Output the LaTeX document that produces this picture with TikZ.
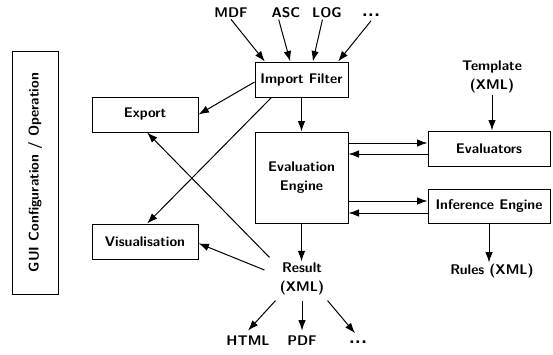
\documentclass[tikz,border=0pt]{standalone}
\usetikzlibrary{arrows.meta,calc}

\tikzset{every picture/.style={line width=1pt}}
\tikzset{
  box/.style={draw, line width=1pt, inner sep=0pt, align=center},
  lbl/.style={inner sep=1pt, align=center},
  dots/.style={inner sep=1pt, font=\sffamily\bfseries\fontsize{20}{20}\selectfont},
  arr/.style={-{Latex[length=10.5pt,width=7.5pt]}, line width=1pt}
}

\begin{document}
\begin{tikzpicture}[x=1pt,y=1pt,yscale=-1,xscale=1,
  font=\sffamily\bfseries\fontsize{14}{19}\selectfont]
\useasboundingbox (0,0) rectangle (553,354);

%Shape: Rectangle
\node[box, minimum width=46, minimum height=243] (gui) at (35,172.5) {};
\node[rotate=90] (guitext) at (gui.center) {GUI Configuration / Operation};
%Shape: Rectangle
\node[box, minimum width=93, minimum height=35] (imp) at (301.5,79.5) {Import Filter};
%Shape: Rectangle
\node[box, minimum width=106, minimum height=35] (exp) at (145,114.5) {Export};
%Shape: Rectangle
\node[box, minimum width=93, minimum height=91] (eval) at (301.5,177.5) {Evaluation\\Engine};
%Shape: Rectangle
\node[box, minimum width=122, minimum height=35] (evals) at (489,148.5) {Evaluators};
%Shape: Rectangle
\node[box, minimum width=122, minimum height=34] (inf) at (489,206) {Inference Engine};
%Shape: Rectangle
\node[box, minimum width=106, minimum height=35] (vis) at (145,241.5) {Visualisation};

% Text Node
\node[lbl] (mdf) at (231,13) {MDF};
\node[lbl] (asc) at (286,13) {ASC};
\node[lbl] (log) at (327,13) {LOG};
\node[dots] (more) at (371,15) {...};
\node[lbl] (tmpl) at (492,77) {Template\\(XML)};
\node[lbl] (rules) at (492,271) {Rules (XML)};
\node[lbl] (res) at (302,279) {Result\\(XML)};
\node[lbl] (html) at (248,341) {HTML};
\node[lbl] (pdf) at (302,341) {PDF};
\node[dots] (etc) at (358,342) {...};

%Straight Lines
\draw[arr] (mdf.south) -- ($(imp.north west)!0.11!(imp.north east)$);
\draw[arr] ($(asc.south west)!0.27!(asc.south east)$) -- ($(imp.north west)!0.38!(imp.north east)$);
\draw[arr] ($(log.south west)!0.36!(log.south east)$) -- ($(imp.north west)!0.62!(imp.north east)$);
\draw[arr] ($(more.south)+(0,3)$) -- ($(imp.north west)!0.89!(imp.north east)$);
\draw[arr] (imp.south) -- (eval.north);
\draw[arr] (tmpl.south) -- (tmpl.south |- evals.north);
\draw[arr] ($(imp.north west)!0.57!(imp.south west)$) -- (exp.east);
\draw[arr] ($(imp.south west)!0.18!(imp.south east)$) -- ($(vis.north west)!0.52!(vis.north east)$);
\draw[arr] ($(res.north west)+(-9,-4)$) -- ($(exp.south west)!0.52!(exp.south east)$);
\draw[arr] ($(res.west)+(-14,-9)$) -- ($(vis.north east)!0.55!(vis.south east)$);
\draw[arr] ($(eval.east |- evals.west)+(0,-5.5)$) -- ($(evals.west)+(0,-5.5)$);
\draw[arr] ($(evals.west)+(0,5.5)$) -- ($(eval.east |- evals.west)+(0,5.5)$);
\draw[arr] ($(eval.east |- inf.west)+(0,-5)$) -- ($(inf.west)+(0,-5)$);
\draw[arr] ($(inf.west)+(0,7)$) -- ($(eval.east |- inf.west)+(0,7)$);
\draw[arr] (inf.south) -- (inf.south |- rules.north);
\draw[arr] (eval.south) -- (eval.south |- res.north);
\draw[arr] ($(res.south west)+(-3,4)$) -- ($(html.north)+(0,-4)$);
\draw[arr] ($(res.south)+(0,4)$) -- ($(pdf.north)+(0,-4)$);
\draw[arr] ($(res.south east)+(2,4)$) -- ($(etc.north)+(-3,-6)$);

\end{tikzpicture}
\end{document}
